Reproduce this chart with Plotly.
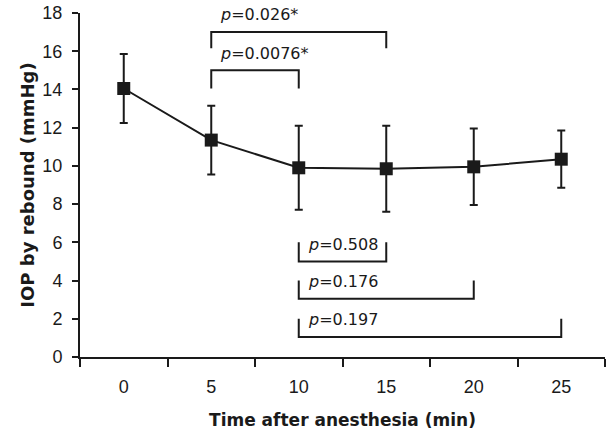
import plotly.graph_objects as go

times = ["0", "5", "10", "15", "20", "25"]
iop_mean = [14.05, 11.35, 9.9, 9.85, 9.95, 10.35]
iop_sd = [1.8, 1.8, 2.2, 2.25, 2.0, 1.5]

# comparisons: (start index, end index, bracket level, legs direction, label)
cmp_start = [1, 1, 2, 2, 2]
cmp_end = [3, 2, 3, 4, 5]
cmp_level = [17.0, 15.0, 5.0, 3.05, 1.05]
cmp_leg = [-0.85, -0.95, 1.0, 0.95, 0.95]
cmp_label = ["0.026*", "0.0076*", "0.508", "0.176", "0.197"]

FONT = "Liberation Sans, Arial, sans-serif"
TFONT = "DejaVu Sans, Verdana, sans-serif"
INK = "#1a1a1a"

fig = go.Figure()
fig.add_trace(go.Scatter(
    x=times, y=iop_mean, mode="lines+markers",
    line=dict(color=INK, width=2),
    marker=dict(symbol="square", size=13, color=INK),
    error_y=dict(type="data", array=iop_sd, visible=True, color=INK, thickness=2, width=4),
    showlegend=False,
))

shapes = []
annotations = []
for s, e, lv, leg, lab in zip(cmp_start, cmp_end, cmp_level, cmp_leg, cmp_label):
    shapes.append(dict(
        type="path", xref="x", yref="y",
        path=f"M {s},{lv + leg} L {s},{lv} L {e},{lv} L {e},{lv + leg}",
        line=dict(color=INK, width=2),
    ))
    annotations.append(dict(
        x=s, y=lv + 0.9, xref="x", yref="y", xanchor="left", yanchor="middle",
        xshift=7, showarrow=False,
        text=f"<i>p</i>={lab}",
        font=dict(family=TFONT, size=16, color=INK),
    ))

fig.update_layout(
    width=608, height=434,
    margin=dict(l=80, r=3, t=11, b=77),
    paper_bgcolor="white", plot_bgcolor="white",
    shapes=shapes, annotations=annotations,
    font=dict(family=FONT, color=INK),
    xaxis=dict(
        type="category", tickson="boundaries", ticks="outside", ticklen=8,
        tickwidth=2, tickcolor=INK, showline=True, linecolor=INK, linewidth=2,
        showgrid=False, zeroline=False, range=[-0.5, 5.5],
        ticklabelstandoff=12,
        tickfont=dict(family=FONT, size=18, color=INK),
        title=dict(text="<b>Time after anesthesia (min)</b>",
                   font=dict(family=TFONT, size=17, color=INK), standoff=19),
    ),
    yaxis=dict(
        range=[0, 18], tickvals=list(range(0, 19, 2)), ticks="outside", ticklen=6,
        tickwidth=2, tickcolor=INK, showline=True, linecolor=INK, linewidth=2,
        showgrid=False, zeroline=False, ticklabelstandoff=6,
        tickfont=dict(family=FONT, size=18, color=INK),
        title=dict(text="<b>IOP by rebound (mmHg)</b>",
                   font=dict(family=TFONT, size=18, color=INK), standoff=3),
    ),
)

fig.write_html("out.html")
